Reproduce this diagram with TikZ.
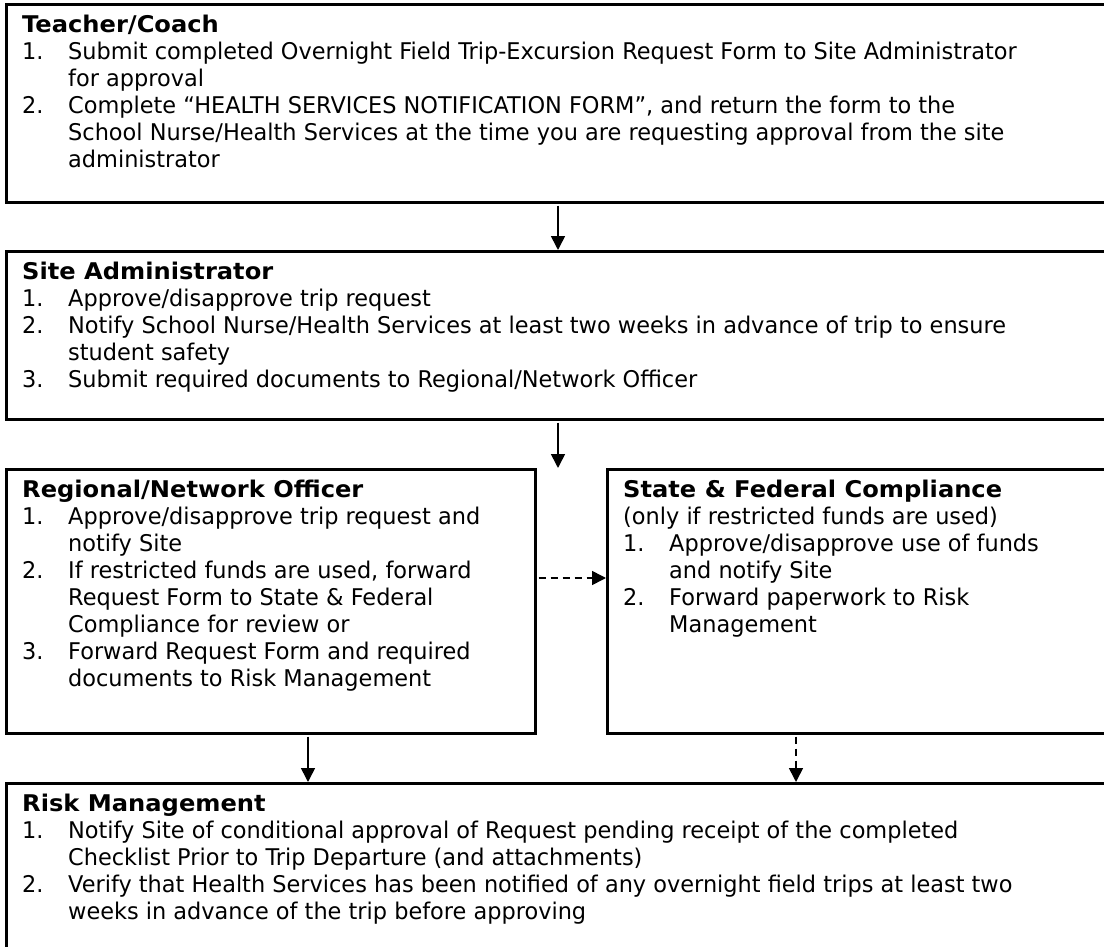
\documentclass[tikz,border=0pt]{standalone}
\usepackage{fontspec}
\setmainfont{DejaVu Sans}[UprightFeatures={FakeStretch=0.975}, BoldFeatures={FakeStretch=1.05}]
\usetikzlibrary{arrows.meta, positioning}

% numbered steps with a hanging indent
\newcommand{\stepno}[1]{\makebox[46pt][l]{#1}}
\newcommand{\wrapin}{\hspace*{46pt}}

\begin{document}
\begin{tikzpicture}[x=1pt, y=-1pt, >={Triangle[width=14pt, length=14pt]},
		stage/.style={rectangle, draw=black, line width=2.6pt, anchor=north west, inner sep=0pt},
		txt/.style={anchor=north west, inner sep=0pt, align=left, font=\fontsize{23}{27}\selectfont},
		flow/.style={->, line width=1.6pt, shorten <=2pt},
		maybe/.style={flow, dash pattern=on 7pt off 5pt}]
	
	\clip (0,0) rectangle (1104,947);
	\fill[white] (0,0) rectangle (1104,947);
	
	% boxes
	\node[stage, minimum width=1200pt, minimum height=198pt] (teacher) at (5,3) {};
	\node[stage, minimum width=1200pt, minimum height=168pt] (site) at (5,250) {};
	\node[stage, minimum width=529pt, minimum height=264pt] (regional) at (5,468) {};
	\node[stage, minimum width=600pt, minimum height=264pt] (state) at (606,468) {};
	\node[stage, minimum width=1200pt, minimum height=300pt] (risk) at (5,782) {};
	
	% box texts
	\node[txt] (teachertxt) at ([shift={(17,12)}]teacher.north west) {\textbf{Teacher/Coach}\\
		\stepno{1.}Submit completed Overnight Field Trip-Excursion Request Form to Site Administrator\\
		\wrapin for approval\\
		\stepno{2.}Complete “HEALTH SERVICES NOTIFICATION FORM”, and return the form to the\\
		\wrapin School Nurse/Health Services at the time you are requesting approval from the site\\
		\wrapin administrator};
	\node[txt] (sitetxt) at ([shift={(17,12)}]site.north west) {\textbf{Site Administrator}\\
		\stepno{1.}Approve/disapprove trip request\\
		\stepno{2.}Notify School Nurse/Health Services at least two weeks in advance of trip to ensure\\
		\wrapin student safety\\
		\stepno{3.}Submit required documents to Regional/Network Officer};
	\node[txt] (regionaltxt) at ([shift={(17,12)}]regional.north west) {\textbf{Regional/Network Officer}\\
		\stepno{1.}Approve/disapprove trip request and\\
		\wrapin notify Site\\
		\stepno{2.}If restricted funds are used, forward\\
		\wrapin Request Form to State \& Federal\\
		\wrapin Compliance for review or\\
		\stepno{3.}Forward Request Form and required\\
		\wrapin documents to Risk Management};
	\node[txt] (statetxt) at ([shift={(17,12)}]state.north west) {\textbf{State \& Federal Compliance}\\
		(only if restricted funds are used)\\
		\stepno{1.}Approve/disapprove use of funds\\
		\wrapin and notify Site\\
		\stepno{2.}Forward paperwork to Risk\\
		\wrapin Management};
	\node[txt] (risktxt) at ([shift={(17,12)}]risk.north west) {\textbf{Risk Management}\\
		\stepno{1.}Notify Site of conditional approval of Request pending receipt of the completed\\
		\wrapin Checklist Prior to Trip Departure (and attachments)\\
		\stepno{2.}Verify that Health Services has been notified of any overnight field trips at least two\\
		\wrapin weeks in advance of the trip before approving};
	
	% connectors
	\coordinate (spine) at (558,0);
	\coordinate (branch) at (0,578);
	\coordinate (leftdrop) at (308,0);
	\coordinate (rightdrop) at (796,0);
	
	\draw[flow] (teacher.south -| spine) -- (site.north -| spine);
	\draw[flow] (site.south -| spine) -- (spine |- regional.north);
	\draw[maybe] (regional.east |- branch) -- (state.west |- branch);
	\draw[flow] (regional.south -| leftdrop) -- (risk.north -| leftdrop);
	\draw[maybe] (state.south -| rightdrop) -- (risk.north -| rightdrop);
\end{tikzpicture}
\end{document}
